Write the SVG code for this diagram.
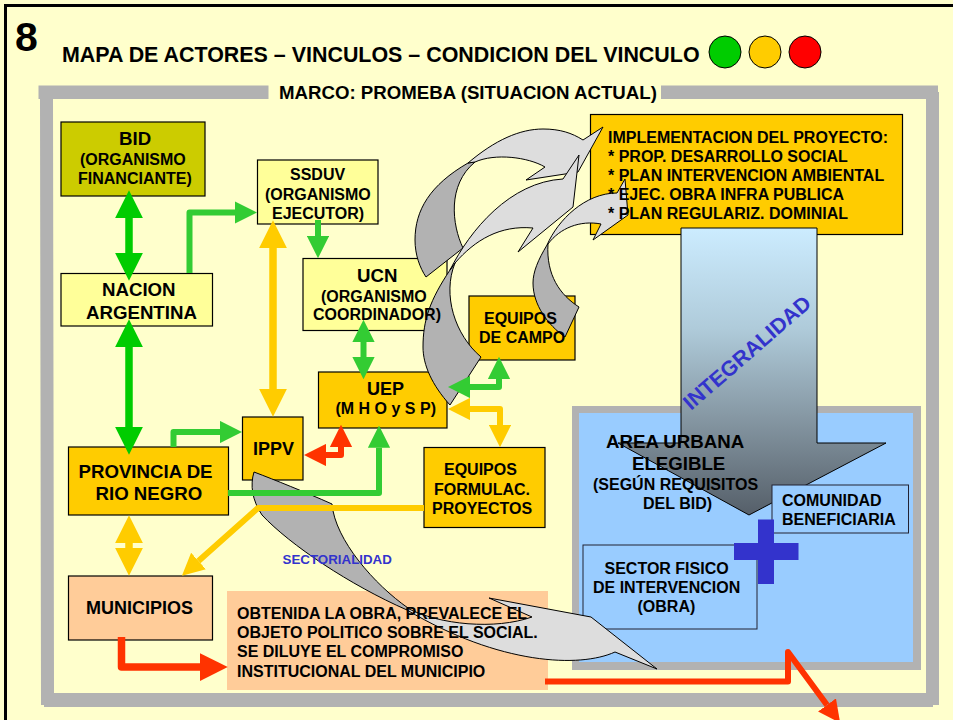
<svg xmlns="http://www.w3.org/2000/svg" width="953" height="720" viewBox="0 0 953 720">
<defs>
<linearGradient id="bigGrad" x1="0" y1="0" x2="0" y2="1">
<stop offset="0" stop-color="#CCECFF"/><stop offset="0.35" stop-color="#AFCBDA"/><stop offset="0.65" stop-color="#8799A5"/><stop offset="1" stop-color="#555F69"/>
</linearGradient>
<marker id="hDark" viewBox="0 0 4 4" refX="0" refY="2" markerWidth="3.7" markerHeight="3.7" orient="auto-start-reverse"><path d="M0 0L4 2L0 4Z" fill="#00CC00"/></marker>
<marker id="hGreen" viewBox="0 0 4 4" refX="0" refY="2" markerWidth="3.7" markerHeight="3.7" orient="auto-start-reverse"><path d="M0 0L4 2L0 4Z" fill="#33CC33"/></marker>
<marker id="hAmber" viewBox="0 0 4 4" refX="0" refY="2" markerWidth="3.7" markerHeight="3.7" orient="auto-start-reverse"><path d="M0 0L4 2L0 4Z" fill="#FFCC00"/></marker>
<marker id="hRed" viewBox="0 0 4 4" refX="0" refY="2" markerWidth="3.7" markerHeight="3.7" orient="auto-start-reverse"><path d="M0 0L4 2L0 4Z" fill="#FF3300"/></marker>
</defs>
<style>
text{font-family:"Liberation Sans",Arial,sans-serif;font-weight:bold;fill:#000}
.s16{font-size:16px}.s18{font-size:18.67px}
.box{stroke:#000;stroke-width:1.2}
.olive{fill:#CCCC00}.pale{fill:#FFFF99}.amber{fill:#FFCC00}.peach{fill:#FFCC99}.sky{fill:#99CCFF}
.frame{fill:#B2B2B2}
.lite{fill:#DDDDDD;stroke:#000;stroke-width:1}
.dark{fill:#B2B2B2;stroke:#000;stroke-width:1}
.c{fill:none;stroke-linejoin:round}
.cd{stroke:#00CC00;stroke-width:7.5}.cg{stroke:#33CC33;stroke-width:6}.ca{stroke:#FFCC00;stroke-width:6}.ca8{stroke:#FFCC00;stroke-width:7.5}.cr{stroke:#FF3300;stroke-width:6}.cr8{stroke:#FF3300;stroke-width:7.5}
</style>
<rect width="953" height="720" fill="#FFFFCC"/>
<path d="M5.5 720V5.5H953" fill="none" stroke="#000" stroke-width="3"/>
<g id="frame">
<rect class="frame" x="38.5" y="85.5" width="230" height="13.5"/>
<rect class="frame" x="661" y="85.5" width="277" height="13.5"/>
<path class="frame" d="M40 99H53L54 693H926V92H939V705H933V707H44V705H41Z"/>
</g>
<g id="title">
<text x="15" y="51" font-size="41">8</text>
<text x="62" y="62" font-size="21.43">MAPA DE ACTORES – VINCULOS – CONDICION DEL VINCULO</text>
<text x="279" y="99" font-size="18.67">MARCO: PROMEBA (SITUACION ACTUAL)</text>
<circle cx="725" cy="52" r="16" fill="#00CC00" stroke="#000"/>
<circle cx="765" cy="52" r="16" fill="#FFCC00" stroke="#000"/>
<circle cx="805" cy="52" r="16" fill="#FF0000" stroke="#000"/>
</g>
<g id="area-box">
<rect class="frame" x="572" y="406" width="349" height="264"/>
<rect class="sky" x="579" y="413" width="334" height="249"/>
</g>
<g id="node-implementacion"><rect class="box amber" x="590.5" y="114.5" width="312" height="120"/></g>
<g id="arrow-integralidad"><path d="M681 228H817V443H886L749 515L618 443H681Z" fill="url(#bigGrad)" stroke="#000" stroke-width="1"/></g>
<g id="node-comunidad"><rect class="sky" x="772" y="485" width="136.500" height="48" stroke="#223" stroke-width="1"/>
<text class="s16" x="782" y="506">COMUNIDAD</text><text class="s16" x="782" y="525">BENEFICIARIA</text></g>
<g id="node-sector"><rect class="sky" x="583" y="545" width="174" height="84" stroke="#223" stroke-width="1"/>
<text class="s16" x="604.500" y="574">SECTOR FISICO</text><text class="s16" x="593" y="593">DE INTERVENCION</text><text class="s16" x="637.500" y="612">(OBRA)</text></g>
<g id="plus"><path d="M758 519.500H774V543H798.500V560H774V584H758V560H734V543H758Z" fill="#3333CC"/></g>
<g id="node-bid"><rect class="box olive" x="61" y="122" width="144" height="74"/>
<text class="s18" x="119" y="145">BID</text><text class="s16" x="80" y="165">(ORGANISMO</text><text class="s16" x="78" y="184">FINANCIANTE)</text></g>
<g id="node-ssduv"><rect class="box pale" x="257.500" y="160" width="120.500" height="64"/>
<text class="s16" x="290" y="180">SSDUV</text><text class="s16" x="265" y="200">(ORGANISMO</text><text class="s16" x="272" y="219">EJECUTOR)</text></g>
<g id="node-nacion"><rect class="box pale" x="61" y="273.500" width="151.500" height="52.500"/>
<text class="s18" x="102" y="296">NACION</text><text class="s18" x="86" y="319">ARGENTINA</text></g>
<g id="node-ucn"><rect class="box pale" x="303" y="258.500" width="144" height="72"/></g>
<g id="node-uep"><rect class="box amber" x="318.500" y="372" width="128.500" height="56"/>
<text x="367" y="395" font-size="18">UEP</text><text class="s16" x="335.500" y="414">(M H O y S P)</text></g>
<g id="node-campo"><rect class="box amber" x="469" y="296" width="106" height="64"/></g>
<g id="node-ippv"><rect class="box amber" x="242.500" y="417" width="60.500" height="63"/>
<text x="253" y="455" font-size="18">IPPV</text></g>
<g id="node-provincia"><rect class="box amber" x="68.500" y="447" width="160" height="68"/>
<text class="s18" x="78.500" y="478">PROVINCIA DE</text><text class="s18" x="95.500" y="500">RIO NEGRO</text></g>
<g id="node-formulac"><rect class="box amber" x="424" y="447.500" width="121" height="80"/>
<text class="s16" x="444" y="475">EQUIPOS</text><text class="s16" x="434" y="495">FORMULAC.</text><text class="s16" x="432" y="514">PROYECTOS</text></g>
<g id="node-municipios"><rect class="box peach" x="68.500" y="576" width="144" height="64"/>
<text x="86" y="614" font-size="18">MUNICIPIOS</text></g>
<g id="node-nota"><rect class="peach" x="227" y="591" width="321" height="99"/></g>
<g id="curved-arrows">
<path class="dark" d="M468 163C430 185 415 210 415 240C415 255 420 268 426 277L463 248C452 225 447 185 475 162Z"/>
<path class="lite" d="M468 163C495 140 520 129 543 129C560 129 572 133 583 140L603 127L578 172L526 180L545 167C528 157 495 153 475 162Z"/>
<path class="dark" d="M450 270C430 300 423 320 423 347C423 365 432 385 450 405L481 357C455 335 442 295 455 263Z"/>
<path class="lite" d="M450 270C470 230 510 182 563 179L579 155L573 207L518 252L533 228C500 225 475 240 455 263Z"/>
<path class="dark" d="M547 245C538 260 533 272 533 283C533 305 548 325 565 337L579 307C560 295 546 275 548 244Z"/>
<path class="lite" d="M547 245C558 220 585 193 617 193L625 179L628 215L593 240L601 224C580 220 560 228 548 244Z"/>
<path class="dark" d="M254 472C275 480 305 492 332 504C335 540 375 585 408 608L407 610C350 585 290 545 262 515C252 500 250 485 254 472Z"/>
<path class="lite" d="M407 608C440 625 495 630 532 617L489 598L591 617L657 669L615 652C580 668 500 665 407 610Z"/>
</g>
<g id="connectors">
<path class="c cd" d="M129 218V253" marker-start="url(#hDark)" marker-end="url(#hDark)"/>
<path class="c cd" d="M129 347V427" marker-start="url(#hDark)" marker-end="url(#hDark)"/>
<path class="c cg" d="M189.500 273V212.500H235" marker-end="url(#hGreen)"/>
<path class="c cg" d="M318 220V236" marker-end="url(#hGreen)"/>
<path class="c cg" d="M363.500 342V357" marker-start="url(#hGreen)" marker-end="url(#hGreen)"/>
<path class="c ca8" d="M273 248V389" marker-start="url(#hAmber)" marker-end="url(#hAmber)"/>
<path class="c cg" d="M173.500 447V432H220" marker-end="url(#hGreen)"/>
<path class="c cg" d="M228 493H379V447.700" marker-end="url(#hGreen)"/>
<path class="c cr" d="M326 455H341V447" marker-start="url(#hRed)" marker-end="url(#hRed)"/>
<path class="c cg" d="M470 387H499V379" marker-start="url(#hGreen)" marker-end="url(#hGreen)"/>
<path class="c ca" d="M470 409H500V425" marker-start="url(#hAmber)" marker-end="url(#hAmber)"/>
<path class="c ca8" d="M129 543V548" marker-start="url(#hAmber)" marker-end="url(#hAmber)"/>
<path class="c ca" d="M424 508H258L198.500 561" marker-end="url(#hAmber)"/>
<path class="c cr8" d="M121.500 637V667H200" marker-end="url(#hRed)"/>
<path class="c cr" d="M545 681.500H788V652L827 705" marker-end="url(#hRed)"/>
</g>
<g id="labels">
<g id="node-implementacion-label">
<text class="s16" x="608" y="143">IMPLEMENTACION DEL PROYECTO:</text>
<text class="s16" x="608" y="162">* PROP. DESARROLLO SOCIAL</text>
<text class="s16" x="608" y="181">* PLAN INTERVENCION AMBIENTAL</text>
<text class="s16" x="608" y="200">* EJEC. OBRA INFRA PUBLICA</text>
<text class="s16" x="608" y="219">* PLAN REGULARIZ. DOMINIAL</text>
</g>
<g id="node-ucn-label">
<text class="s18" x="357" y="282">UCN</text><text class="s16" x="321" y="302">(ORGANISMO</text><text class="s16" x="313" y="320">COORDINADOR)</text>
</g>
<g id="node-campo-label">
<text class="s16" x="484" y="324">EQUIPOS</text><text class="s16" x="479" y="343">DE CAMPO</text>
</g>
<g id="node-nota-label">
<text class="s16" x="237" y="619">OBTENIDA LA OBRA, PREVALECE EL</text>
<text class="s16" x="237" y="638">OBJETO POLITICO SOBRE EL SOCIAL.</text>
<text class="s16" x="237" y="657">SE DILUYE EL COMPROMISO</text>
<text class="s16" x="237" y="677">INSTITUCIONAL DEL MUNICIPIO</text>
</g>
<g id="area-label">
<text x="606" y="448" font-size="18.67">AREA URBANA</text>
<text x="632" y="470" font-size="18.67">ELEGIBLE</text>
<text class="s16" x="593" y="490">(SEGÚN REQUISITOS</text>
<text class="s16" x="643" y="509">DEL BID)</text>
</g>
<text x="691" y="411" font-size="21.33" transform="rotate(-41 691 411)" style="fill:#3333CC">INTEGRALIDAD</text>
<text x="282.500" y="564" font-size="13.33" style="fill:#3333CC">SECTORIALIDAD</text>
</g>
</svg>
